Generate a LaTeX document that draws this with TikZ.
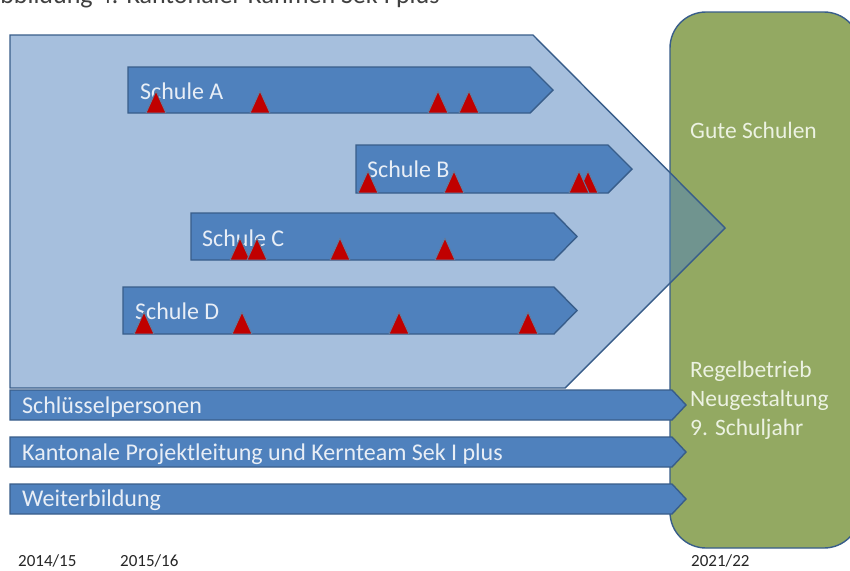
\documentclass[tikz,border=0pt]{standalone}
\usepackage{fontspec}
\setmainfont{Carlito}
\definecolor{bfill}{RGB}{79,129,189}
\definecolor{bline}{RGB}{56,93,138}
\definecolor{gfill}{RGB}{147,169,98}
\definecolor{tred}{RGB}{192,0,0}
\definecolor{wtext}{RGB}{232,238,246}
\definecolor{gtext}{RGB}{236,242,226}
\tikzset{
  bigarrow/.style={fill=bfill,fill opacity=0.5,draw=bline,draw opacity=1,line width=1.4pt,line join=miter},
  sarrow/.style={fill=bfill,draw=bline,line width=1.4pt,line join=miter},
  gbox/.style={fill=gfill,draw=bline,line width=1.4pt},
  lbl/.style={anchor=base west,text=wtext,font=\fontsize{24}{28}\selectfont,inner sep=0pt},
  glbl/.style={anchor=base west,text=gtext,font=\fontsize{23.5}{29}\selectfont,inner sep=0pt,align=left},
  yr/.style={anchor=base west,text=black!85,font=\fontsize{17}{20}\selectfont,inner sep=0pt},
  trimark/.style={fill=tred,draw=bline!80,line width=1pt,line join=round}
}
\newcommand\trimk[2]{\draw[trimark] ({#1-10},#2) -- ({#1+10},#2) -- (#1,{#2-22}) -- cycle;}
\begin{document}
\begin{tikzpicture}[x=1pt,y=-1pt]
\clip (0,0) rectangle (850,570);
\fill[white] (0,0) rectangle (850,570);
% caption (cut off at top)
\node[anchor=base west,inner sep=0pt,text=black!75,font=\fontsize{26}{30}\selectfont] (cap) at (-15,3) {Abbildung 4: Kantonaler Rahmen Sek I plus};
% green box
\draw[gbox,rounded corners=36pt] (670,12) rectangle (860,548);
\node[glbl] (gute) at (690,138) {Gute Schulen};
\node[glbl] (regel) at (690,435) {Regelbetrieb\\Neugestaltung\\9. Schuljahr};
% big arrow
\draw[bigarrow] (10,35) -- (533,35) -- (725,228) -- (565,388) -- (10,388) -- cycle;
% school arrows
\draw[sarrow] (128,67) -- (530,67) -- (553,90) -- (530,113) -- (128,113) -- cycle;
\draw[sarrow] (356,145) -- (608,145) -- (632,169) -- (608,193) -- (356,193) -- cycle;
\draw[sarrow] (191,213) -- (554,213) -- (577,236.5) -- (554,260) -- (191,260) -- cycle;
\draw[sarrow] (123,287) -- (554,287) -- (577,310.5) -- (554,334) -- (123,334) -- cycle;
\node[lbl] (sa) at (140,99) {Schule A};
\node[lbl] (sb) at (367,177) {Schule B};
\node[lbl] (sc) at (202,246) {Schule C};
\node[lbl] (sd) at (135,319) {Schule D};
% triangles
\trimk{156}{113}\trimk{260}{113}\trimk{438}{113}\trimk{469}{113}
\trimk{368}{193}\trimk{454}{193}\trimk{588}{193}\trimk{579}{193}
\trimk{240}{260}\trimk{257}{260}\trimk{340}{260}\trimk{445}{260}
\trimk{144}{334}\trimk{242}{334}\trimk{399}{334}\trimk{528}{334}
% bottom bars
\draw[sarrow] (10,390) -- (672,390) -- (686,405) -- (672,420) -- (10,420) -- cycle;
\draw[sarrow] (10,437) -- (672,437) -- (686,452) -- (672,467) -- (10,467) -- cycle;
\draw[sarrow] (10,484) -- (672,484) -- (686,499) -- (672,514) -- (10,514) -- cycle;
\node[lbl] (sp) at (22,413) {Schlüsselpersonen};
\node[lbl] (kp) at (22,460) {Kantonale Projektleitung und Kernteam Sek I plus};
\node[lbl] (wb) at (22,506) {Weiterbildung};
% years
\node[yr] (y1) at (18,566.5) {2014/15};
\node[yr] (y2) at (120,566.5) {2015/16};
\node[yr] (y3) at (691,566.5) {2021/22};
\end{tikzpicture}
\end{document}
